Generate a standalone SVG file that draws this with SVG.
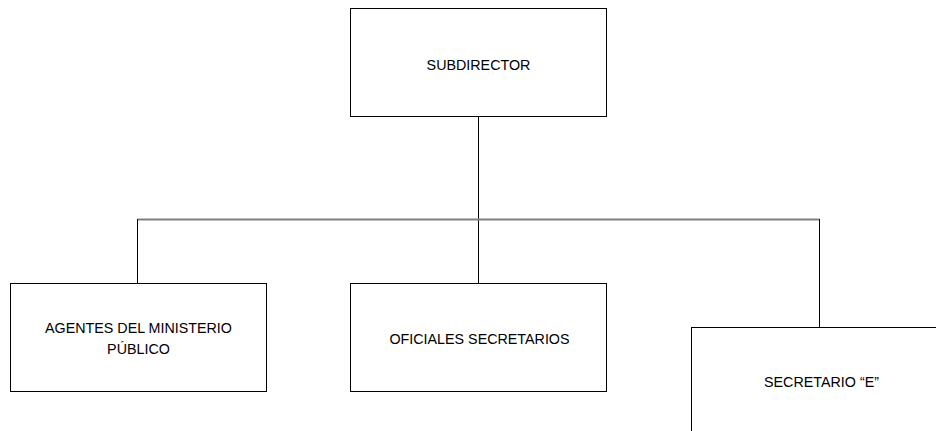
<svg xmlns="http://www.w3.org/2000/svg" width="936" height="431" viewBox="0 0 936 431">
<style>
.box{fill:#fff;stroke:#000;stroke-width:1}
.lbl{font-family:"Liberation Sans",Arial,sans-serif;font-size:14.3px;fill:#000;text-anchor:middle}
.ln{stroke:#000;stroke-width:1;fill:none}
.hl{stroke:#808080;stroke-width:2;fill:none}
</style>
<rect width="936" height="431" fill="#fff"/>
<g id="connectors">
<line class="ln" x1="478.5" y1="116" x2="478.5" y2="283"/>
<line class="hl" x1="137.5" y1="219.5" x2="819.5" y2="219.5"/>
<line class="ln" x1="137.5" y1="219" x2="137.5" y2="283"/>
<line class="ln" x1="819.5" y1="219" x2="819.5" y2="327"/>
</g>
<g id="subdirector">
<rect class="box" x="350.5" y="8.5" width="256" height="108"/>
<text class="lbl" x="478.5" y="70">SUBDIRECTOR</text>
</g>
<g id="agentes">
<rect class="box" x="10.5" y="283.5" width="256" height="108"/>
<text class="lbl" x="138.5" y="333">AGENTES DEL MINISTERIO</text>
<text class="lbl" x="138.5" y="354">PÚBLICO</text>
</g>
<g id="oficiales">
<rect class="box" x="350.5" y="283.5" width="256" height="108"/>
<text class="lbl" x="479.5" y="344">OFICIALES SECRETARIOS</text>
</g>
<g id="secretario">
<rect class="box" x="691.5" y="327.5" width="260" height="120"/>
<text class="lbl" x="821.5" y="387">SECRETARIO “E”</text>
</g>
</svg>
